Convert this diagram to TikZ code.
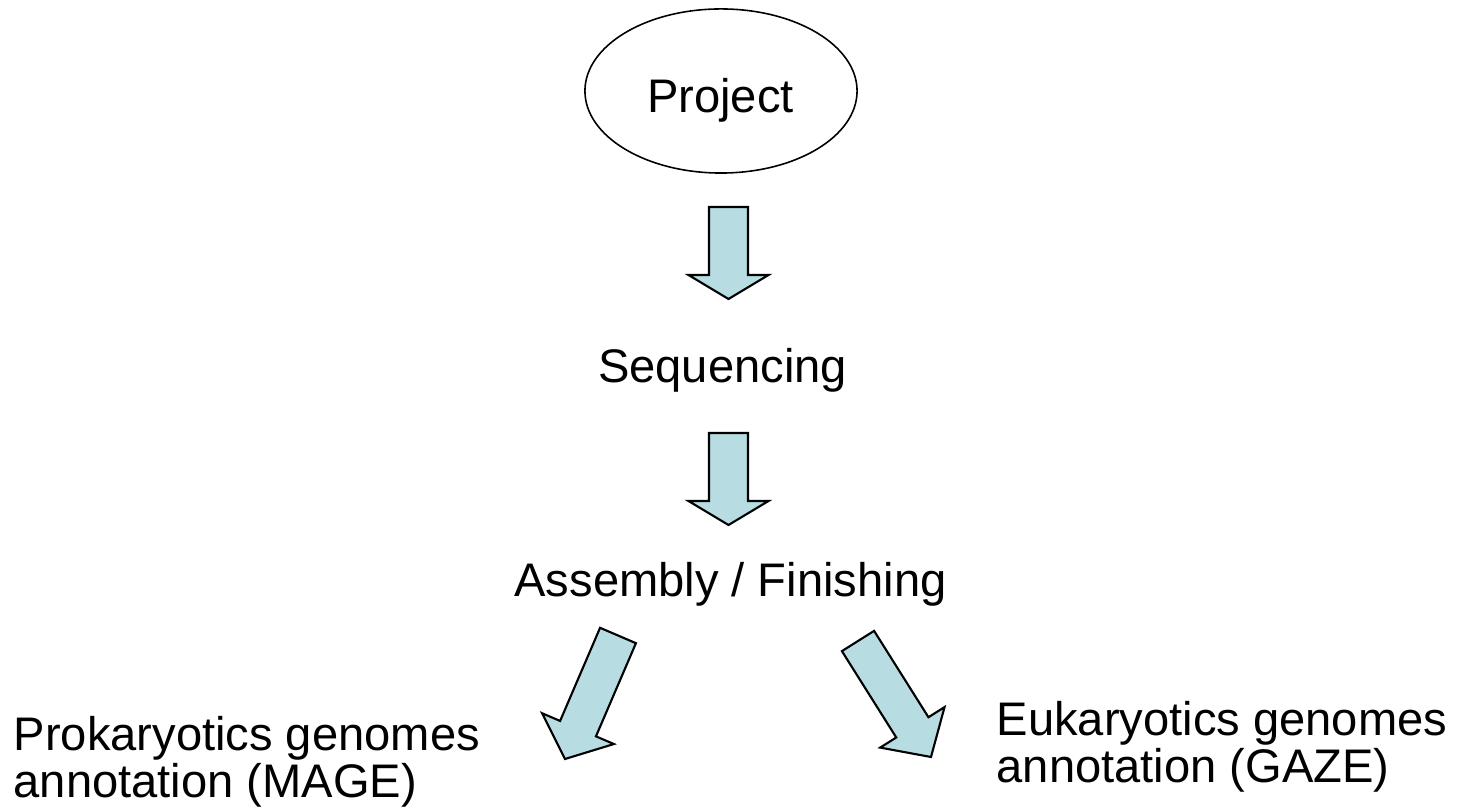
\documentclass[tikz,border=0pt]{standalone}
\usepackage{fontspec}
\setmainfont{Liberation Sans}
\usetikzlibrary{calc}
\definecolor{arrowfill}{RGB}{183,221,226}
\tikzset{
  lbl/.style={font=\fontsize{13.4}{13.6}\selectfont, inner sep=0pt, align=left},
  blockarrow/.style={draw=black, line width=0.6pt, fill=arrowfill, line join=miter},
  outline/.style={draw=black, line width=0.45pt}
}
% block arrow: start, tip, half shaft width, half head width, head length
\newcommand\flowarrow[5]{%
  \coordinate (fa-h) at ($(#2)!#5!(#1)$);
  \draw[blockarrow]
    ($(#1)!#3!90:(#2)$) -- ($(fa-h)!#3!90:(#2)$) -- ($(fa-h)!#4!90:(#2)$) -- (#2)
    -- ($(fa-h)!#4!-90:(#2)$) -- ($(fa-h)!#3!-90:(#2)$) -- ($(#1)!#3!-90:(#2)$) -- cycle;
}
\begin{document}
\begin{tikzpicture}[x=0.01cm, y=-0.01cm]
  \useasboundingbox (0,0) rectangle (1460,810);

  % labels (multi-line nodes are placed by the baseline of their last line)
  \node[lbl, anchor=base] (project) at (720.5,113) {Project};
  \draw[outline] (721,91) ellipse [x radius=1.36cm, y radius=0.82cm];
  \node[lbl, anchor=base] (seq) at (722.5,383) {Sequencing};
  \node[lbl, anchor=base] (asm) at (730.5,597) {Assembly / Finishing};
  \node[lbl, anchor=base west] (prok) at (13,798) {Prokaryotics genomes\\annotation (MAGE)};
  \node[lbl, anchor=base west] (euk) at (996,783) {Eukaryotics genomes\\annotation (GAZE)};

  % arrow end points
  \coordinate (a1s) at (728.5,207);  \coordinate (a1t) at (728.5,299);
  \coordinate (a2s) at (728.5,433);  \coordinate (a2t) at (728.5,525);
  \coordinate (a3s) at (618,635.5);  \coordinate (a3t) at (565,759);
  \coordinate (a4s) at (858,641);    \coordinate (a4t) at (931,757);

  \flowarrow{a1s}{a1t}{0.195cm}{0.40cm}{0.24cm}
  \flowarrow{a2s}{a2t}{0.195cm}{0.40cm}{0.24cm}
  \flowarrow{a3s}{a3t}{0.195cm}{0.39cm}{0.33cm}
  \flowarrow{a4s}{a4t}{0.19cm}{0.38cm}{0.35cm}
\end{tikzpicture}
\end{document}
